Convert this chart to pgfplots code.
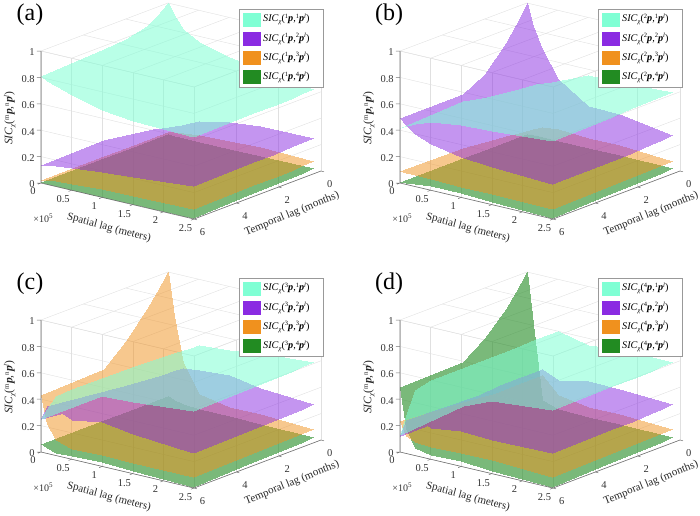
\documentclass[border=0pt]{standalone}
\usepackage{pgfplots}
\usepackage{pgfplotstable}
\usepackage{fontspec}
\pgfplotsset{compat=1.18}
\setmainfont{Liberation Serif}
\pgfplotstableread{
s t A P O G
0 0 1 .04 .02 .005
.1 0 .92 .07 .03 .005
.25 0 .83 .10 .04 .005
.5 0 .76 .16 .055 .005
1 0 .70 .21 .065 .005
1.5 0 .66 .23 .07 .005
2.37 0 .605 .235 .06 .005
0 .5 .93 .06 .02 .005
.1 .5 .88 .09 .03 .005
.25 .5 .81 .12 .04 .005
.5 .5 .75 .17 .055 .005
1 .5 .69 .21 .065 .005
1.5 .5 .655 .23 .07 .005
2.38 .5 .605 .235 .06 .005
0 1 .89 .09 .02 .005
.1 1 .85 .12 .03 .005
.25 1 .80 .14 .04 .005
.5 1 .74 .175 .055 .005
1 1 .68 .215 .065 .005
1.5 1 .65 .23 .07 .005
2.39 1 .605 .235 .06 .005
0 2 .85 .125 .02 .005
.1 2 .82 .14 .03 .005
.25 2 .78 .16 .04 .005
.5 2 .73 .19 .055 .005
1 2 .67 .215 .065 .005
1.5 2 .64 .23 .07 .005
2.41 2 .605 .235 .06 .005
0 3 .83 .146 .02 .005
.1 3 .80 .155 .03 .005
.25 3 .77 .17 .04 .005
.5 3 .725 .20 .055 .005
1 3 .665 .215 .065 .005
1.5 3 .64 .235 .07 .005
2.43 3 .61 .24 .065 .005
0 6 .81 .14 .025 .005
.1 6 .785 .15 .03 .005
.25 6 .76 .155 .04 .005
.5 6 .72 .17 .05 .005
1 6 .66 .19 .06 .005
1.5 6 .635 .21 .065 .005
2.48 6 .62 .245 .07 .005
}\tabA
\pgfplotstableread{
s t A P O G
0 0 .05 1 .03 .005
.1 0 .2 .84 .06 .01
.25 0 .34 .68 .09 .01
.5 0 .46 .48 .10 .01
1 0 .56 .33 .09 .01
1.5 0 .565 .32 .085 .01
2.37 0 .585 .255 .065 .005
0 .5 .14 .86 .04 .005
.1 .5 .25 .75 .065 .01
.25 .5 .37 .62 .09 .01
.5 .5 .48 .46 .10 .01
1 .5 .56 .33 .09 .01
1.5 .5 .565 .315 .085 .01
2.38 .5 .585 .255 .065 .005
0 1 .22 .76 .05 .005
.1 1 .31 .67 .07 .01
.25 1 .40 .56 .09 .01
.5 1 .50 .44 .095 .015
1 1 .55 .33 .09 .015
1.5 1 .565 .31 .085 .01
2.39 1 .585 .255 .065 .005
0 2 .345 .58 .07 .005
.1 2 .40 .54 .08 .01
.25 2 .45 .48 .09 .015
.5 2 .515 .41 .09 .02
1 2 .55 .325 .085 .02
1.5 2 .565 .30 .08 .015
2.41 2 .585 .25 .065 .005
0 3 .44 .49 .08 .005
.1 3 .46 .47 .085 .01
.25 3 .48 .44 .09 .02
.5 3 .52 .38 .09 .025
1 3 .55 .32 .085 .025
1.5 3 .56 .295 .08 .015
2.43 3 .585 .25 .07 .005
0 6 .42 .495 .09 .005
.1 6 .44 .45 .09 .01
.25 6 .475 .40 .09 .02
.5 6 .52 .35 .085 .03
1 6 .55 .305 .08 .03
1.5 6 .56 .285 .08 .02
2.48 6 .59 .26 .075 .005
}\tabB
\pgfplotstableread{
s t A P O G
0 0 .08 .09 1 .06
.1 0 .2 .18 .68 .045
.25 0 .36 .30 .34 .03
.5 0 .50 .31 .13 .02
1 0 .52 .33 .09 .015
1.5 0 .55 .285 .085 .01
2.37 0 .575 .255 .07 .005
0 .5 .11 .10 .88 .06
.1 .5 .22 .19 .60 .045
.25 .5 .37 .31 .32 .03
.5 .5 .50 .32 .13 .02
1 .5 .52 .33 .09 .015
1.5 .5 .55 .29 .085 .01
2.38 .5 .575 .255 .07 .005
0 1 .15 .13 .78 .06
.1 1 .26 .21 .52 .045
.25 1 .39 .31 .29 .03
.5 1 .51 .32 .12 .02
1 1 .525 .33 .09 .02
1.5 1 .55 .295 .085 .01
2.39 1 .575 .255 .07 .005
0 2 .20 .18 .60 .06
.1 2 .29 .25 .42 .045
.25 2 .41 .32 .24 .03
.5 2 .52 .315 .11 .02
1 2 .53 .335 .09 .02
1.5 2 .55 .30 .085 .015
2.41 2 .575 .255 .07 .005
0 3 .25 .20 .45 .06
.1 3 .32 .28 .34 .045
.25 3 .43 .34 .19 .03
.5 3 .525 .31 .10 .02
1 3 .53 .335 .09 .025
1.5 3 .55 .305 .085 .015
2.43 3 .575 .255 .075 .005
0 6 .25 .25 .43 .06
.1 6 .34 .36 .22 .04
.25 6 .45 .35 .12 .02
.5 6 .53 .30 .08 .025
1 6 .53 .34 .09 .03
1.5 6 .545 .30 .08 .02
2.48 6 .58 .265 .08 .003
}\tabC
\pgfplotstableread{
s t A P O G
0 0 .06 .05 .03 1
.1 0 .22 .16 .16 .62
.25 0 .42 .29 .25 .06
.5 0 .61 .24 .12 .02
1 0 .555 .28 .09 .01
1.5 0 .58 .275 .085 .01
2.37 0 .575 .255 .07 .005
0 .5 .08 .06 .05 .88
.1 .5 .24 .17 .17 .56
.25 .5 .43 .29 .25 .06
.5 .5 .61 .245 .12 .02
1 .5 .555 .28 .09 .01
1.5 .5 .58 .275 .085 .01
2.38 .5 .575 .255 .07 .005
0 1 .10 .08 .07 .78
.1 1 .26 .18 .18 .50
.25 1 .44 .29 .25 .06
.5 1 .61 .25 .12 .02
1 1 .56 .28 .09 .01
1.5 1 .58 .27 .085 .01
2.39 1 .575 .255 .07 .005
0 2 .14 .10 .12 .62
.1 2 .29 .20 .20 .38
.25 2 .46 .29 .24 .05
.5 2 .60 .25 .12 .02
1 2 .56 .275 .09 .01
1.5 2 .575 .27 .085 .01
2.41 2 .575 .25 .07 .005
0 3 .17 .12 .17 .50
.1 3 .33 .22 .22 .28
.25 3 .48 .28 .23 .04
.5 3 .60 .25 .11 .02
1 3 .57 .27 .10 .015
1.5 3 .57 .265 .09 .01
2.43 3 .58 .255 .075 .005
0 6 .13 .12 .235 .49
.1 6 .28 .25 .13 .19
.25 6 .50 .29 .10 .06
.5 6 .60 .235 .09 .03
1 6 .565 .27 .10 .04
1.5 6 .55 .255 .10 .02
2.48 6 .59 .26 .08 .003
}\tabD
\pgfplotsset{
 colormap={caq}{rgb255(0pt)=(127,255,212); rgb255(1pt)=(127,255,212)},
 colormap={cpu}{rgb255(0pt)=(138,43,226); rgb255(1pt)=(138,43,226)},
 colormap={cor}{rgb255(0pt)=(240,145,30); rgb255(1pt)=(240,145,30)},
 colormap={cgr}{rgb255(0pt)=(34,139,34); rgb255(1pt)=(34,139,34)},
 sfc/.style={surf,shader=interp,opacity=.5,mesh/cols=7,point meta=z},
 panel/.style={
  x={(61.2pt,-14.4pt)},y={(-21.17pt,-8pt)},z={(0pt,132pt)},
  xmin=0,xmax=2.5,ymin=0,ymax=6,zmin=0,zmax=1,
  point meta min=0,point meta max=1,
  xtick={0,.5,...,2.5},ytick={0,2,4,6},ztick={0,.2,...,1},
  grid=major,grid style={black!12,line width=.4pt},
  axis line style={draw=none},
  tick style={draw=none},tick align=outside,
  major tick length=3pt,
  clip=false,
  /pgf/number format/assume math mode=true,
  ticklabel style={font=\fontsize{10.5pt}{12pt}\selectfont,text=black!80},
  xticklabel style={/pgf/number format/fixed},
  yticklabel style={yshift=-5pt},
  anchor=origin,
 },
}
\definecolor{laq}{RGB}{127,255,212}
\definecolor{lpu}{RGB}{138,43,226}
\definecolor{lor}{RGB}{240,145,30}
\definecolor{lgr}{RGB}{34,139,34}
\newcommand\pp{\textbf{\textit{p}}}
\newcommand\lab[2]{\textit{SIC}\raisebox{-2pt}{\fontsize{6.5pt}{7pt}\selectfont\textit{χ}}(\raisebox{3.5pt}{\fontsize{6.5pt}{7pt}\selectfont #1}\pp,\raisebox{3.5pt}{\fontsize{6.5pt}{7pt}\selectfont #2}\pp\raisebox{3.5pt}{\fontsize{6.5pt}{7pt}\selectfont\textit{l}})}
\newcommand\onepanel[5]{%
 \begin{axis}[panel,at={(168pt+#1,-135pt-#2)}]
  \addplot3[sfc,colormap name=cgr,opacity=.6] table[x=s,y=t,z=G] {#3};
  \addplot3[sfc,colormap name=cor] table[x=s,y=t,z=O] {#3};
  \addplot3[sfc,colormap name=cpu] table[x=s,y=t,z=P] {#3};
  \addplot3[sfc,colormap name=caq,opacity=.55] table[x=s,y=t,z=A] {#3};
  \draw[black!55,line width=.6pt] (axis cs:0,6,1)--(axis cs:0,6,0)--(axis cs:2.5,6,0)--(axis cs:2.5,0,0);
  \draw[black!55,line width=.5pt]
   (axis cs:0,6,0)--++(-4pt,0pt) (axis cs:0,6,.2)--++(-4pt,0pt) (axis cs:0,6,.4)--++(-4pt,0pt)
   (axis cs:0,6,.6)--++(-4pt,0pt) (axis cs:0,6,.8)--++(-4pt,0pt) (axis cs:0,6,1)--++(-4pt,0pt)
   (axis cs:0,6,0)--++(-3pt,-1.2pt) (axis cs:.5,6,0)--++(-3pt,-1.2pt) (axis cs:1,6,0)--++(-3pt,-1.2pt)
   (axis cs:1.5,6,0)--++(-3pt,-1.2pt) (axis cs:2,6,0)--++(-3pt,-1.2pt) (axis cs:2.5,6,0)--++(-3pt,-1.2pt)
   (axis cs:2.5,0,0)--++(3pt,-.8pt) (axis cs:2.5,2,0)--++(3pt,-.8pt) (axis cs:2.5,4,0)--++(3pt,-.8pt) (axis cs:2.5,6,0)--++(3pt,-.8pt);
 \end{axis}
 \begin{scope}[shift={(#1,-#2)}]
  \node[font=\fontsize{24pt}{26pt}\selectfont] at (30pt,-15pt) {(#4)};
  \node[font=\fontsize{11pt}{12pt}\selectfont,rotate=-15,text=black!85] at (109pt,-228pt) {Spatial lag (meters)};
  \node[font=\fontsize{11pt}{12pt}\selectfont,rotate=22,text=black!85] at (292pt,-214pt) {Temporal lag (months)};
  \node[font=\fontsize{11.5pt}{12pt}\selectfont,rotate=90,text=black!85] at (10pt,-118pt) {\textit{SIC}\raisebox{-2pt}{\fontsize{7pt}{7pt}\selectfont\textit{χ}}(\raisebox{3.5pt}{\fontsize{7pt}{7pt}\selectfont m}\pp,\raisebox{3.5pt}{\fontsize{7pt}{7pt}\selectfont n}\pp\raisebox{3.5pt}{\fontsize{7pt}{7pt}\selectfont\textit{l}})};
  \node[font=\fontsize{10pt}{12pt}\selectfont,text=black!80] at (43pt,-218pt) {×10\raisebox{4pt}{\fontsize{7pt}{8pt}\selectfont 5}};
  \draw[fill=white,draw=black!40,line width=.6pt] (239pt,-9pt) rectangle (323pt,-87pt);
  \foreach \cc/\yy/\nn in {laq/19.5/1,lpu/38.7/2,lor/58/3,lgr/77.3/4}{
    \fill[\cc] (242.5pt,-\yy pt+7pt) rectangle (261pt,-\yy pt-7pt);
    \node[anchor=west,inner sep=0pt,font=\fontsize{10.2pt}{11pt}\selectfont] at (263pt,-\yy pt) {\lab{#5}{\nn}};
  }
 \end{scope}
}
\begin{document}
\begin{tikzpicture}
\path[use as bounding box] (0,0) rectangle (700pt,-515pt);
\onepanel{0pt}{0pt}{\tabA}{a}{1}
\onepanel{359pt}{0pt}{\tabB}{b}{2}
\onepanel{0pt}{269pt}{\tabC}{c}{3}
\onepanel{359pt}{269pt}{\tabD}{d}{4}
\end{tikzpicture}
\end{document}
